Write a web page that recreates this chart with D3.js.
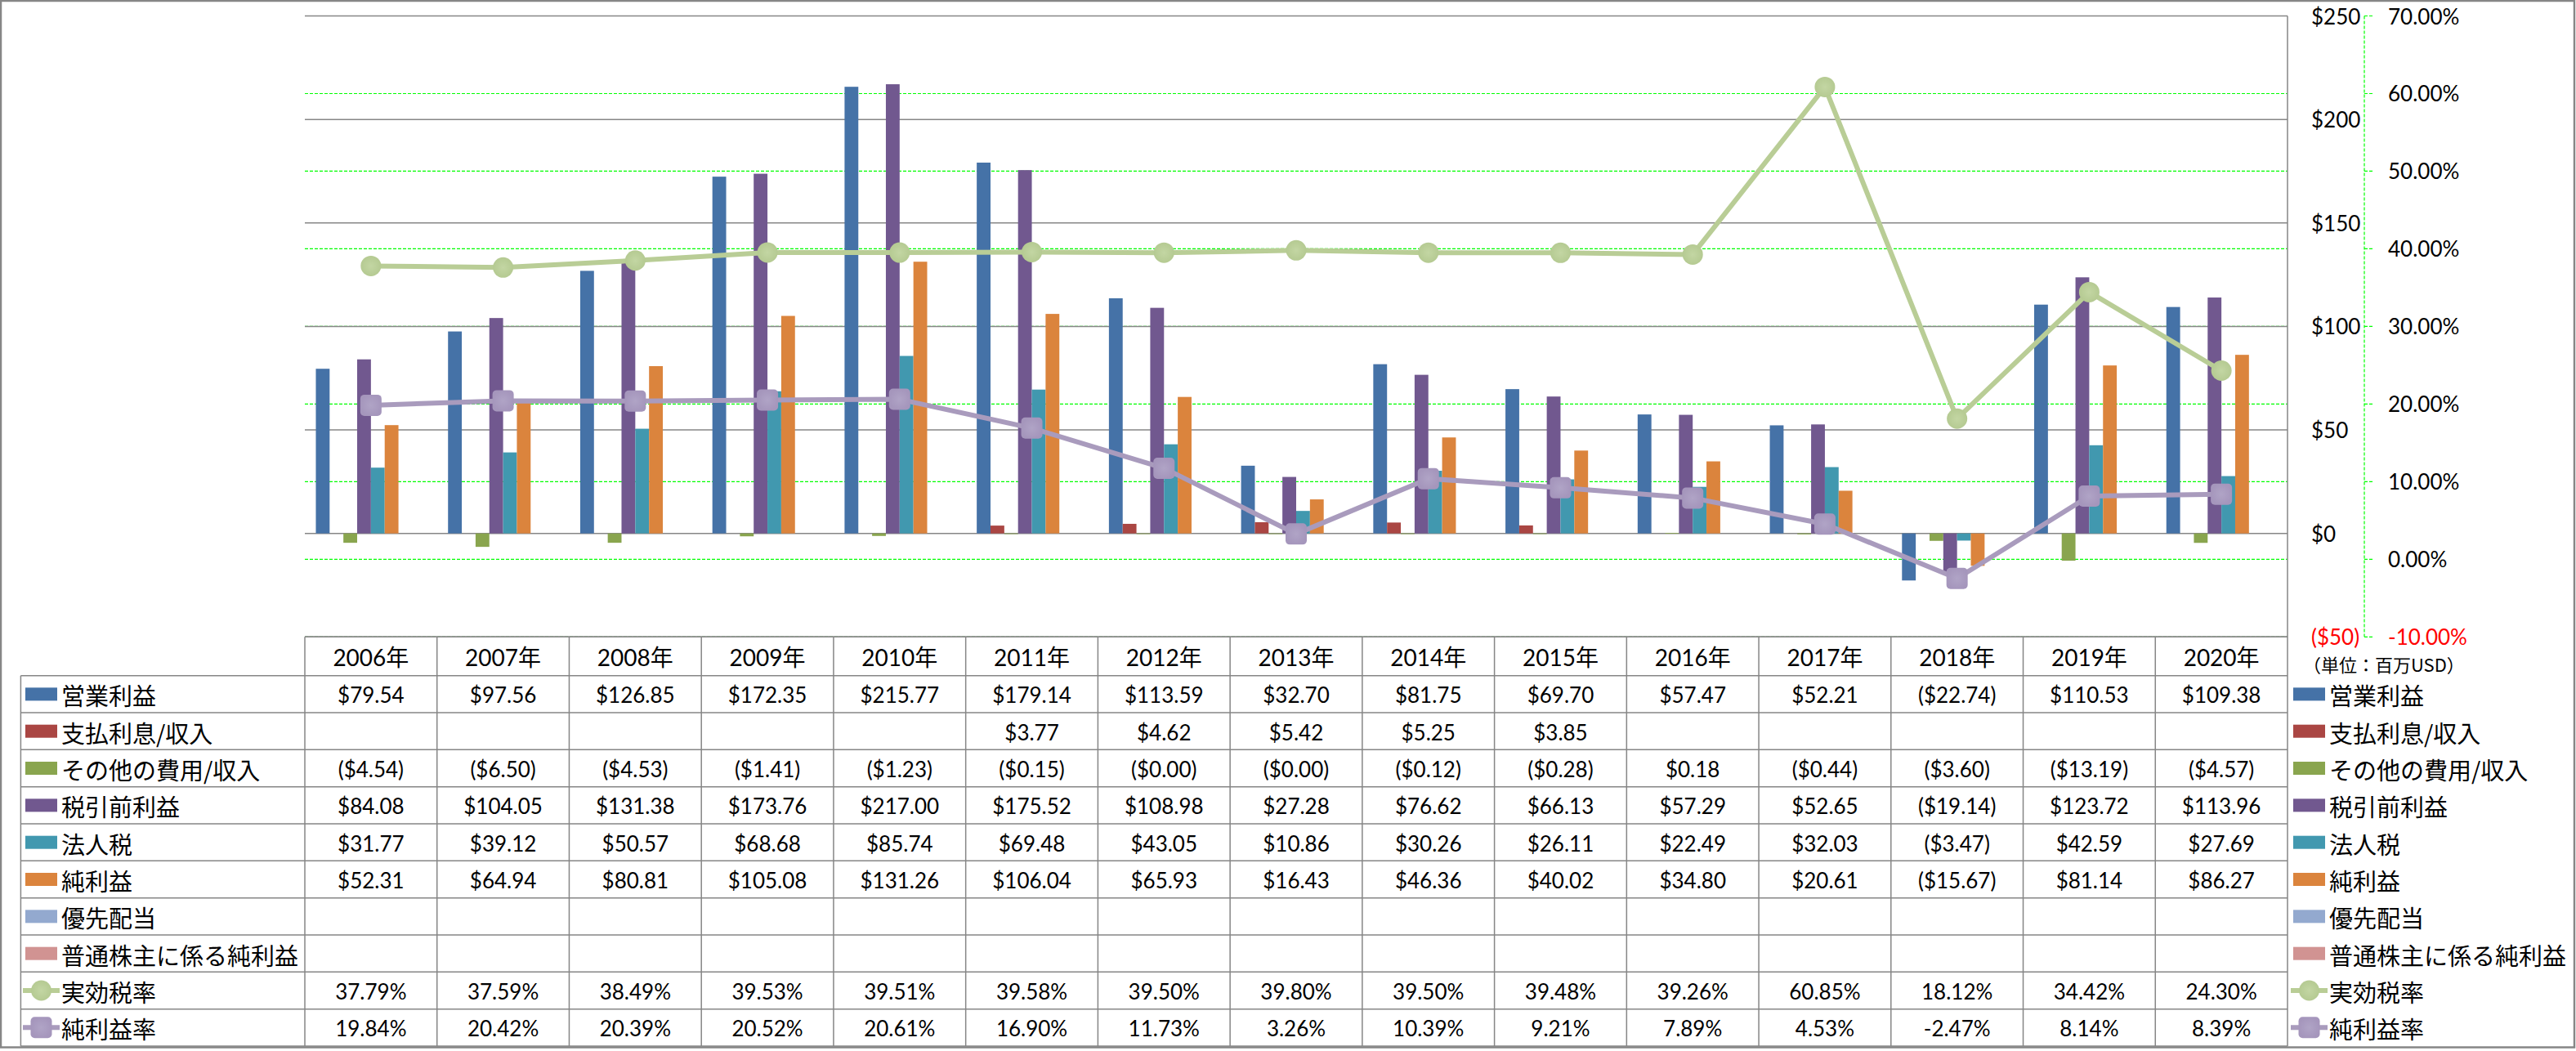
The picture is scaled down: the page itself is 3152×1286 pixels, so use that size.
<!DOCTYPE html>
<html><head><meta charset="utf-8">
<script src="https://cdn.jsdelivr.net/npm/d3@7"></script>
<style>html,body{margin:0;padding:0;background:#fff;}svg{display:block;}</style>
</head><body>
<script>
// ---- data ----
const years = ["2006年","2007年","2008年","2009年","2010年","2011年","2012年","2013年","2014年","2015年","2016年","2017年","2018年","2019年","2020年"];
const barSeries = ["営業利益","支払利息/収入","その他の費用/収入","税引前利益","法人税","純利益","優先配当","普通株主に係る純利益"];
const lineSeries = ["実効税率","純利益率"];
const operatingIncome = [79.54,97.56,126.85,172.35,215.77,179.14,113.59,32.70,81.75,69.70,57.47,52.21,-22.74,110.53,109.38];
const interestIncome = [null,null,null,null,null,3.77,4.62,5.42,5.25,3.85,null,null,null,null,null];
const otherExpense = [-4.54,-6.50,-4.53,-1.41,-1.23,-0.15,-0.001,-0.001,-0.12,-0.28,0.18,-0.44,-3.60,-13.19,-4.57];
const pretaxIncome = [84.08,104.05,131.38,173.76,217.00,175.52,108.98,27.28,76.62,66.13,57.29,52.65,-19.14,123.72,113.96];
const incomeTax = [31.77,39.12,50.57,68.68,85.74,69.48,43.05,10.86,30.26,26.11,22.49,32.03,-3.47,42.59,27.69];
const netIncome = [52.31,64.94,80.81,105.08,131.26,106.04,65.93,16.43,46.36,40.02,34.80,20.61,-15.67,81.14,86.27];
const preferredDividends = [null,null,null,null,null,null,null,null,null,null,null,null,null,null,null];
const netIncomeCommon = [null,null,null,null,null,null,null,null,null,null,null,null,null,null,null];
const effectiveTaxRate = [37.79,37.59,38.49,39.53,39.51,39.58,39.50,39.80,39.50,39.48,39.26,60.85,18.12,34.42,24.30];
const netMargin = [19.84,20.42,20.39,20.52,20.61,16.90,11.73,3.26,10.39,9.21,7.89,4.53,-2.47,8.14,8.39];
const dollarTicks = [-50,0,50,100,150,200,250];
const pctTicks = [-10,0,10,20,30,40,50,60,70];
const unitLabel = "（単位：百万USD）";

const barValues = [operatingIncome,interestIncome,otherExpense,pretaxIncome,incomeTax,netIncome,preferredDividends,netIncomeCommon];
const lineValues = [effectiveTaxRate,netMargin];
const colors = ["#4572A7","#AA4643","#89A54E","#71588F","#4198AF","#DB843D","#93A9CF","#D19392","#B9CD96","#A99BBD"];

// ---- layout ----
const W=3152,H=1286;
const plotL=373, plotR=2799, plotT=19.5, plotB=779.3;
const rowTop=826.7, rowH=45.33, tableL=25.4;
const numFont="Lato, 'Noto Sans CJK JP', sans-serif";
const cjkFont="'Noto Sans CJK JP', sans-serif";
const gray="#868686";

const svg=d3.select("body").append("svg").attr("width",W).attr("height",H);
const defs=svg.append("defs");
const g1=defs.append("radialGradient").attr("id","gC");
g1.append("stop").attr("offset","0%").attr("stop-color","#C3D6A3");
g1.append("stop").attr("offset","100%").attr("stop-color","#B5CA92");
const g2=defs.append("radialGradient").attr("id","gS");
g2.append("stop").attr("offset","0%").attr("stop-color","#B0A4C6");
g2.append("stop").attr("offset","100%").attr("stop-color","#A596BC");

const x0=d3.scaleBand().domain(years).range([plotL,plotR]).paddingInner(0).paddingOuter(0);
const x1=d3.scaleBand().domain(barSeries).range([0,x0.bandwidth()]).paddingInner(0).paddingOuter(0.8);
const yL=d3.scaleLinear().domain([-50,250]).range([plotB,plotT]);
const yR=d3.scaleLinear().domain([-10,70]).range([plotB,plotT]);

const fmtD=v=> v==null?"":(v<0?`($${Math.abs(v).toFixed(2)})`:`$${v.toFixed(2)}`);
const fmtP=v=> v==null?"":v.toFixed(2)+"%";

// outer border
svg.append("rect").attr("x",1).attr("y",1).attr("width",W-3).attr("height",1280.5)
  .attr("fill","none").attr("stroke",gray).attr("stroke-width",2.5);

// green dashed pct gridlines
svg.append("g").selectAll("line").data(pctTicks).join("line")
  .attr("x1",plotL).attr("x2",plotR).attr("y1",d=>yR(d)).attr("y2",d=>yR(d))
  .attr("stroke","#00FF00").attr("stroke-width",1.2).attr("stroke-dasharray","4,2");
// gray dollar gridlines
svg.append("g").selectAll("line").data(dollarTicks).join("line")
  .attr("x1",plotL).attr("x2",plotR).attr("y1",d=>yL(d)).attr("y2",d=>yL(d))
  .attr("stroke",gray).attr("stroke-width",1.5);
// plot right border
svg.append("line").attr("x1",plotR).attr("x2",plotR).attr("y1",plotT).attr("y2",1280)
  .attr("stroke",gray).attr("stroke-width",1.5);

// bars
barSeries.forEach((s,si)=>{
  svg.append("g").selectAll("rect").data(barValues[si].map((v,i)=>({v,i})).filter(d=>d.v!=null)).join("rect")
    .attr("x",d=>x0(years[d.i])+x1(s)).attr("width",x1.bandwidth())
    .attr("y",d=>Math.min(yL(d.v),yL(0))).attr("height",d=>Math.max(Math.abs(yL(d.v)-yL(0)),0.8))
    .attr("fill",colors[si]);
});

// lines
const cx=i=>x0(years[i])+x0.bandwidth()/2;
function circleMarker(g,x,y){
  g.append("circle").attr("cx",x).attr("cy",y).attr("r",12.5).attr("fill","url(#gC)");
}
function squareMarker(g,x,y){
  g.append("rect").attr("x",x-13).attr("y",y-13).attr("width",26).attr("height",26).attr("rx",5).attr("fill","url(#gS)");
}
lineSeries.forEach((s,li)=>{
  const vals=lineValues[li];
  const g=svg.append("g");
  g.append("path").datum(vals.map((v,i)=>[cx(i),yR(v)]))
    .attr("d",d3.line()).attr("fill","none").attr("stroke",colors[8+li]).attr("stroke-width",6).attr("stroke-linejoin","round");
  vals.forEach((v,i)=> li===0?circleMarker(g,cx(i),yR(v)):squareMarker(g,cx(i),yR(v)));
});

// secondary axis line + ticks
const axX=2893;
svg.append("line").attr("x1",axX).attr("x2",axX).attr("y1",yR(70)).attr("y2",yR(-10))
  .attr("stroke","#00FF00").attr("stroke-width",1.2).attr("stroke-dasharray","4,2");
svg.append("g").selectAll("line").data(pctTicks).join("line")
  .attr("x1",axX).attr("x2",axX+10).attr("y1",d=>yR(d)).attr("y2",d=>yR(d))
  .attr("stroke","#00FF00").attr("stroke-width",1.2).attr("stroke-dasharray","4,2");

// axis labels
svg.append("g").selectAll("text").data(dollarTicks).join("text")
  .attr("x",2828).attr("y",d=>yL(d)).attr("dominant-baseline","central")
  .attr("font-family",numFont).attr("font-size",26).attr("fill",d=>d<0?"#FF0000":"#000")
  .text(d=>d<0?`($${-d})`:`$${d}`);
svg.append("g").selectAll("text").data(pctTicks).join("text")
  .attr("x",2922).attr("y",d=>yR(d)).attr("dominant-baseline","central")
  .attr("font-family",numFont).attr("font-size",26).attr("fill",d=>d<0?"#FF0000":"#000")
  .text(d=>d.toFixed(2)+"%");
svg.append("text").attr("x",2818).attr("y",812).attr("dominant-baseline","central")
  .attr("font-family",cjkFont).attr("font-size",22).text(unitLabel);

// ---- data table ----
const tb=svg.append("g");
const nRows=barSeries.length+lineSeries.length;
tb.append("line").attr("x1",plotL).attr("x2",plotR).attr("y1",plotB).attr("y2",plotB).attr("stroke",gray).attr("stroke-width",1.5);
d3.range(nRows+1).forEach(k=>{
  tb.append("line").attr("x1",tableL).attr("x2",plotR).attr("y1",rowTop+k*rowH).attr("y2",rowTop+k*rowH)
    .attr("stroke",gray).attr("stroke-width",1.5);
});
tb.append("line").attr("x1",tableL).attr("x2",tableL).attr("y1",rowTop).attr("y2",rowTop+nRows*rowH).attr("stroke",gray).attr("stroke-width",1.5);
years.forEach(yv=>{
  tb.append("line").attr("x1",x0(yv)).attr("x2",x0(yv)).attr("y1",plotB).attr("y2",rowTop+nRows*rowH).attr("stroke",gray).attr("stroke-width",1.5);
});
tb.selectAll("text.hdr").data(years).join("text").attr("class","hdr")
  .attr("x",d=>x0(d)+x0.bandwidth()/2).attr("y",(plotB+rowTop)/2+1).attr("text-anchor","middle").attr("dominant-baseline","central")
  .attr("font-family",numFont).attr("font-size",28).text(d=>d);

const allNames=barSeries.concat(lineSeries);
const allVals=barValues.concat(lineValues);
allNames.forEach((name,r)=>{
  const yc=rowTop+r*rowH+rowH/2;
  const isLine=r>=barSeries.length;
  const vals=allVals[r];
  tb.append("g").selectAll("text").data(vals).join("text")
    .attr("x",(d,i)=>x0(years[i])+x0.bandwidth()/2).attr("y",yc+1).attr("text-anchor","middle").attr("dominant-baseline","central")
    .attr("font-family",numFont).attr("font-size",26)
    .text(d=>isLine?fmtP(d):fmtD(d));
  [[31,75],[2806,2850]].forEach(([kx,tx])=>{
    if(!isLine){
      tb.append("rect").attr("x",kx).attr("y",yc-8).attr("width",39).attr("height",16).attr("fill",colors[r]);
    } else {
      const li=r-barSeries.length;
      tb.append("line").attr("x1",kx-3).attr("x2",kx+42).attr("y1",yc).attr("y2",yc).attr("stroke",colors[8+li]).attr("stroke-width",6);
      if(li===0) circleMarker(tb,kx+19.5,yc); else squareMarker(tb,kx+19.5,yc);
    }
    tb.append("text").attr("x",tx).attr("y",yc+1).attr("dominant-baseline","central")
      .attr("font-family",cjkFont).attr("font-size",29).text(name);
  });
});
</script>
</body></html>
